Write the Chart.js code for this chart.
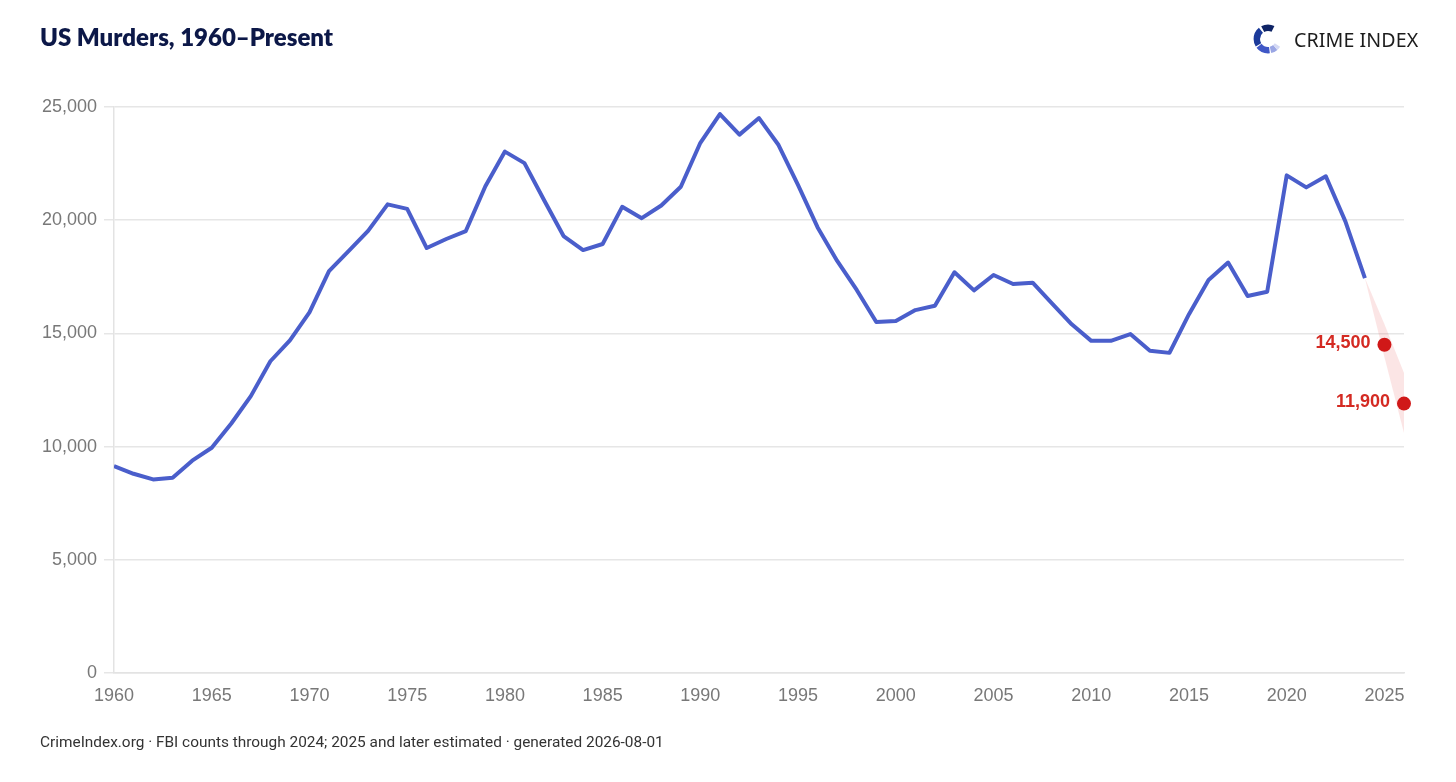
<!DOCTYPE html>
<html>
<head>
<meta charset="utf-8">
<script src="https://cdn.jsdelivr.net/npm/chart.js@4.4.1/dist/chart.umd.min.js"></script>
<style>
  html, body { margin: 0; padding: 0; background: #fff; }
  #wrap { position: relative; width: 1456px; height: 782px; overflow: hidden; }
  #chartBox { position: absolute; left: 0; top: 0; width: 1456px; height: 782px; }
  #title { position: absolute; left: 40px; top: 22px; font-family: Lato, "Noto Sans", sans-serif; font-weight: 800; font-size: 24px; color: #0c1848; }
  #brand { position: absolute; left: 1252px; top: 22px; height: 34px; display: flex; align-items: center; }
  #brand span { font-family: "Noto Sans", Roboto, sans-serif; font-size: 19.6px; color: #1c1c1c; margin-left: 10px; letter-spacing: 0.1px; }
  #foot { position: absolute; left: 40px; top: 733px; font-family: Roboto, "Noto Sans", sans-serif; font-size: 15.4px; color: #333; }
</style>
</head>
<body>
<div id="wrap">
  <div id="chartBox"><canvas id="murders"></canvas></div>
  <div id="title">US Murders, 1960–Present</div>
  <div id="brand">
    <svg width="32" height="32" viewBox="0 0 30 30">
      <circle cx="15" cy="15" r="10.5" fill="none" stroke="#0f2466" stroke-width="6" stroke-dasharray="10 56" stroke-dashoffset="-44"/>
      <circle cx="15" cy="15" r="10.5" fill="none" stroke="#1b3a9a" stroke-width="6" stroke-dasharray="15 51" stroke-dashoffset="-27"/>
      <circle cx="15" cy="15" r="10.5" fill="none" stroke="#3f57c6" stroke-width="6" stroke-dasharray="11 55" stroke-dashoffset="-15"/>
      <circle cx="15" cy="15" r="10.5" fill="none" stroke="#9aa6e4" stroke-width="6" stroke-dasharray="5 61" stroke-dashoffset="-9"/>
      <circle cx="15" cy="15" r="10.5" fill="none" stroke="#d4d9f4" stroke-width="6" stroke-dasharray="3 63" stroke-dashoffset="-6"/>
    </svg>
    <span>CRIME INDEX</span>
  </div>
  <div id="foot">CrimeIndex.org · FBI counts through 2024; 2025 and later estimated · generated 2026-08-01</div>
</div>
<script>
const years = [1960, 1961, 1962, 1963, 1964, 1965, 1966, 1967, 1968, 1969,
    1970, 1971, 1972, 1973, 1974, 1975, 1976, 1977, 1978, 1979,
    1980, 1981, 1982, 1983, 1984, 1985, 1986, 1987, 1988, 1989,
    1990, 1991, 1992, 1993, 1994, 1995, 1996, 1997, 1998, 1999,
    2000, 2001, 2002, 2003, 2004, 2005, 2006, 2007, 2008, 2009,
    2010, 2011, 2012, 2013, 2014, 2015, 2016, 2017, 2018, 2019,
    2020, 2021, 2022, 2023, 2024];
const murders = [9140, 8800, 8550, 8620, 9380, 9950, 11020, 12230, 13770, 14690,
    15930, 17750, 18630, 19530, 20700, 20500, 18770, 19170, 19520, 21500,
    23030, 22520, 20890, 19300, 18680, 18950, 20590, 20090, 20650, 21480,
    23420, 24690, 23780, 24510, 23320, 21550, 19680, 18200, 16920, 15500,
    15550, 16030, 16220, 17700, 16900, 17580, 17180, 17240, 16320, 15400,
    14670, 14670, 14970, 14230, 14140, 15850, 17360, 18130, 16650, 16840,
    21980, 21450, 21940, 19950, 17440];
const estYears = [2025, 2026];
const estimates = [14500, 11900];
const bandYears = [2024, 2025, 2026];
const bandHigh = [17440, 15400, 13250];
const bandLow = [17440, 13950, 10600];
const xTicks = [1960, 1965, 1970, 1975, 1980, 1985, 1990, 1995, 2000, 2005, 2010, 2015, 2020, 2025];

function pts(xs, ys) {
    let out = [];
    for (let i = 0; i < xs.length; i++) {
        out.push({ x: xs[i], y: ys[i] });
    }
    return out;
}

const estLabels = {
    id: 'estLabels',
    afterDatasetsDraw(chart) {
        const meta = chart.getDatasetMeta(3);
        const ctx = chart.ctx;
        ctx.save();
        ctx.font = '600 18px "Liberation Sans", Arial, sans-serif';
        ctx.fillStyle = '#d42a22';
        ctx.textAlign = 'right';
        ctx.textBaseline = 'middle';
        meta.data.forEach(function (p, i) {
            ctx.fillText(estimates[i].toLocaleString('en-US'), p.x - 14, p.y - 2);
        });
        ctx.restore();
    }
};

const ctx = document.getElementById('murders');
const myChart = new Chart(ctx, {
    type: 'line',
    data: {
        datasets: [{
            label: 'Murders',
            data: pts(years, murders),
            borderColor: '#4a5ecb',
            borderWidth: 4,
            pointRadius: 0,
            tension: 0,
            borderJoinStyle: 'round',
            order: 1
        }, {
            label: 'High',
            data: pts(bandYears, bandHigh),
            borderWidth: 0,
            pointRadius: 0,
            fill: false,
            order: 3
        }, {
            label: 'Low',
            data: pts(bandYears, bandLow),
            borderWidth: 0,
            pointRadius: 0,
            fill: '-1',
            backgroundColor: 'rgba(228, 70, 70, 0.14)',
            order: 3
        }, {
            label: 'Estimate',
            data: pts(estYears, estimates),
            showLine: false,
            clip: false,
            pointRadius: 7,
            pointHoverRadius: 7,
            pointBackgroundColor: '#d01818',
            pointBorderWidth: 0,
            order: 0
        }]
    },
    options: {
        responsive: true,
        maintainAspectRatio: false,
        animation: false,
        events: [],
        layout: { padding: { left: 0, top: 107, right: 52, bottom: 0 } },
        plugins: {
            legend: { display: false },
            tooltip: { enabled: false }
        },
        scales: {
            x: {
                type: 'linear',
                min: 1960,
                max: 2026,
                afterBuildTicks: function (scale) {
                    scale.ticks = xTicks.map(v => ({ value: v }));
                },
                afterFit: function (scale) { scale.height = 109; },
                grid: { display: false, drawTicks: false },
                border: { display: true, color: '#e3e3e3', width: 1.5 },
                ticks: {
                    padding: 12,
                    color: '#787878',
                    font: { family: '"Liberation Sans", Arial, sans-serif', size: 18 },
                    maxRotation: 0,
                    autoSkip: false,
                    callback: v => String(v)
                }
            },
            y: {
                min: 0,
                max: 25000,
                afterFit: function (scale) { scale.width = 114; },
                grid: { color: '#e6e6e6', lineWidth: 1.5, tickLength: 10, drawTicks: true },
                border: { display: true, color: '#e3e3e3', width: 1.5 },
                ticks: {
                    stepSize: 5000,
                    padding: 7,
                    color: '#787878',
                    font: { family: '"Liberation Sans", Arial, sans-serif', size: 18 },
                    callback: v => v.toLocaleString('en-US')
                }
            }
        }
    },
    plugins: [estLabels]
});
</script>
</body>
</html>
